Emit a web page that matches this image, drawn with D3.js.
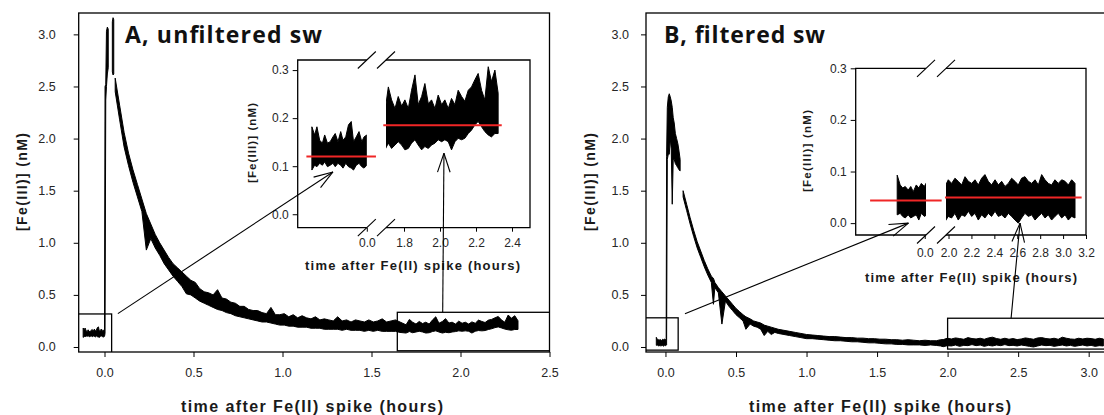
<!DOCTYPE html>
<html>
<head>
<meta charset="utf-8">
<script src="https://cdn.jsdelivr.net/npm/d3@7"></script>
<style>
  body { margin: 0; background: #fff; }
  svg { display: block; }
  text { font-family: "Liberation Sans", Arial, sans-serif; }
</style>
</head>
<body>
<svg id="chart" width="1104" height="415"></svg>
<script>
// ---------------- data ----------------
// time in hours after the Fe(II) spike, [Fe(III)] in nM, each sample is a low/high pair of the noisy trace

// panel A, unfiltered seawater
const preA_t  = [-0.120,-0.114,-0.109,-0.103,-0.097,-0.092,-0.086,-0.080,-0.074,-0.069,-0.063,-0.057,-0.052,-0.046,-0.040,-0.034,-0.029,-0.023,-0.017,-0.011,-0.006,0.000];
const preA_lo = [0.092,0.102,0.099,0.106,0.102,0.109,0.099,0.102,0.106,0.099,0.106,0.102,0.096,0.106,0.099,0.096,0.092,0.102,0.106,0.099,0.096,0.102];
const preA_hi = [0.182,0.165,0.182,0.154,0.148,0.165,0.148,0.151,0.161,0.168,0.151,0.172,0.154,0.161,0.186,0.193,0.151,0.161,0.172,0.151,0.161,0.165];

// the spike itself shows as two bursts of vertical strokes
const spikeA_t  = [0.003,0.007,0.011,0.016,0.021];
const spikeA_lo = [0.13,2.37,2.50,2.62,2.68];
const spikeA_hi = [2.50,2.52,3.03,3.07,3.05];
const spikeA2_t  = [0.044,0.048,0.052];
const spikeA2_lo = [2.64,2.61,2.62];
const spikeA2_hi = [3.12,3.16,3.14];

const decayA_t  = [0.060,0.085,0.110,0.135,0.160,0.185,0.210,0.235,0.260,0.285,0.310,0.335,0.360,0.385,0.410,0.435,0.460,0.485,0.510,0.535,
                   0.560,0.585,0.610,0.635,0.660,0.685,0.710,0.735,0.760,0.785,0.810,0.835,0.860,0.885,0.910,0.935,0.960,0.985,1.010,1.035,
                   1.060,1.085,1.110,1.135,1.160,1.185,1.210,1.235,1.260,1.285,1.310,1.335,1.360,1.385,1.410,1.435,1.460,1.485,1.510,1.535,
                   1.560,1.585,1.610,1.635,1.660];
const decayA_lo = [2.45,2.18,1.92,1.74,1.58,1.44,1.30,0.93,1.04,0.95,0.88,0.80,0.74,0.68,0.63,0.58,0.51,0.50,0.47,0.44,
                   0.42,0.40,0.38,0.36,0.35,0.33,0.32,0.30,0.29,0.28,0.27,0.26,0.25,0.24,0.24,0.23,0.22,0.21,0.21,0.20,
                   0.20,0.19,0.19,0.19,0.18,0.18,0.18,0.17,0.17,0.17,0.17,0.16,0.17,0.16,0.16,0.16,0.15,0.16,0.15,0.16,
                   0.15,0.15,0.15,0.15,0.14];
const decayA_hi = [2.58,2.32,2.06,1.86,1.70,1.56,1.42,1.28,1.18,1.08,1.00,0.93,0.86,0.80,0.76,0.72,0.68,0.64,0.62,0.56,
                   0.53,0.52,0.50,0.55,0.47,0.46,0.43,0.42,0.39,0.39,0.36,0.35,0.35,0.33,0.32,0.38,0.31,0.31,0.32,0.29,
                   0.31,0.28,0.30,0.28,0.27,0.29,0.26,0.27,0.26,0.25,0.29,0.25,0.26,0.24,0.26,0.25,0.24,0.26,0.24,0.25,
                   0.27,0.24,0.25,0.26,0.24];

const tailA_t  = [1.694,1.713,1.731,1.750,1.768,1.787,1.805,1.824,1.842,1.861,1.879,1.898,1.916,1.935,1.953,1.972,1.990,2.009,2.027,2.046,
                  2.064,2.083,2.101,2.120,2.138,2.157,2.175,2.194,2.212,2.231,2.249,2.268,2.286,2.305,2.323];
const tailA_lo = [0.134,0.148,0.137,0.144,0.151,0.144,0.134,0.137,0.148,0.155,0.144,0.134,0.141,0.137,0.144,0.148,0.155,0.151,0.155,0.151,
                  0.134,0.151,0.158,0.155,0.158,0.168,0.175,0.186,0.193,0.182,0.172,0.165,0.161,0.168,0.168];
const tailA_hi = [0.213,0.265,0.238,0.220,0.245,0.225,0.238,0.220,0.258,0.290,0.228,0.245,0.272,0.230,0.238,0.220,0.248,0.228,0.238,0.220,
                  0.241,0.228,0.258,0.245,0.235,0.258,0.265,0.280,0.293,0.258,0.238,0.307,0.276,0.300,0.252];

const meanA = [0.120, 0.185];                    // red lines: before spike, end of run
const meanA_span = [[-0.132, 0.020], [1.685, 2.343]];

// panel B, filtered seawater
const preB_t  = [-0.065,-0.058,-0.052,-0.046,-0.039,-0.033,-0.027,-0.020,-0.014,-0.008,-0.001,0.005];
const preB_lo = [0.016,0.019,0.013,0.010,0.016,0.010,0.013,0.016,0.006,0.019,0.013,0.016];
const preB_hi = [0.093,0.074,0.068,0.071,0.064,0.071,0.061,0.074,0.068,0.077,0.071,0.080];

const spikeB_t  = [0.008,0.013,0.020,0.027,0.034,0.041,0.048,0.055,0.062,0.070,0.079,0.088,0.096,0.104];
const spikeB_lo = [0.02,1.80,1.85,1.85,2.00,1.90,1.37,1.80,1.80,1.76,1.74,1.72,1.70,1.69];
const spikeB_hi = [1.83,2.30,2.40,2.43,2.40,2.36,2.30,2.20,2.15,2.05,2.00,1.95,1.88,1.80];

const decayB_t  = [0.125,0.150,0.175,0.200,0.225,0.250,0.275,0.300,0.325,0.340,0.350,0.375,0.400,0.425,0.450,0.475,0.500,0.525,0.550,0.570,
                   0.600,0.625,0.650,0.675,0.700,0.725,0.750,0.775,0.800,0.840,0.880,0.920,0.960,1.000,1.040,1.080,1.120,1.160,1.200,1.240,
                   1.280,1.320,1.360,1.400,1.440,1.480,1.520,1.560,1.600,1.640,1.680,1.720,1.760,1.800,1.840,1.880,1.920,1.950];
const decayB_lo = [1.44,1.31,1.18,1.06,0.95,0.86,0.77,0.69,0.62,0.41,0.57,0.52,0.22,0.44,0.39,0.35,0.31,0.28,0.25,0.17,
                   0.22,0.20,0.19,0.17,0.11,0.15,0.12,0.14,0.13,0.12,0.11,0.10,0.09,0.08,0.08,0.075,0.07,0.065,0.06,0.06,
                   0.055,0.05,0.05,0.045,0.04,0.04,0.035,0.03,0.03,0.025,0.025,0.02,0.02,0.02,0.015,0.02,0.015,0.01];
const decayB_hi = [1.50,1.37,1.24,1.12,1.01,0.92,0.83,0.75,0.68,0.66,0.62,0.57,0.53,0.49,0.45,0.41,0.37,0.34,0.31,0.29,
                   0.27,0.25,0.24,0.23,0.21,0.20,0.19,0.18,0.17,0.16,0.15,0.14,0.13,0.12,0.115,0.11,0.105,0.10,0.10,0.095,
                   0.09,0.09,0.085,0.085,0.08,0.08,0.075,0.075,0.07,0.07,0.065,0.07,0.065,0.06,0.065,0.06,0.06,0.07];

const tailB_t  = [1.969,1.998,2.027,2.056,2.085,2.115,2.144,2.173,2.202,2.231,2.260,2.289,2.318,2.347,2.376,2.406,2.435,2.464,2.493,2.522,
                  2.551,2.580,2.609,2.638,2.667,2.697,2.726,2.755,2.784,2.813,2.842,2.871,2.900,2.929,2.958,2.988,3.017,3.046,3.075,3.104];
const tailB_lo = [0.003,0.013,0.010,0.019,0.006,0.016,0.013,0.023,0.013,0.019,0.006,0.016,0.010,0.019,0.013,0.023,0.013,0.016,0.010,0.019,
                  0.013,0.006,0.000,0.010,0.019,0.013,0.016,0.006,0.013,0.019,0.010,0.016,0.006,0.013,0.019,0.010,0.016,0.006,0.013,0.010];
const tailB_hi = [0.071,0.084,0.077,0.087,0.081,0.074,0.090,0.081,0.077,0.084,0.074,0.087,0.094,0.081,0.074,0.084,0.074,0.081,0.071,0.077,
                  0.087,0.081,0.074,0.087,0.090,0.081,0.077,0.084,0.074,0.094,0.084,0.077,0.074,0.084,0.077,0.084,0.081,0.074,0.084,0.077];

const meanB = [0.044, 0.0496];
const meanB_span = [[-0.129, 0.040], [1.969, 3.162]];

// axis ticks
const mainYTicks = [0, 0.5, 1.0, 1.5, 2.0, 2.5, 3.0];
const mainXTicksA = [0, 0.5, 1.0, 1.5, 2.0, 2.5];
const mainXTicksB = [0, 0.5, 1.0, 1.5, 2.0, 2.5, 3.0];
const insetYTicks = [0, 0.1, 0.2, 0.3];
const insetXTicksA = [1.8, 2.0, 2.2, 2.4];
const insetXTicksB = [2.0, 2.2, 2.4, 2.6, 2.8, 3.0, 3.2];

// zoom windows drawn on the main plots [t0, t1, v0, v1]
const boxesA = [[-0.2, 0.040, -0.1, 0.317], [1.645, 2.6, -0.036, 0.333]];
const boxesB = [[-0.2, 0.090, -0.03, 0.280], [2.0, 3.5, -0.02, 0.276]];

// ---------------- helpers ----------------
function series(parts) {
  // parts: [t, lo, hi] triples; a null row before a part flagged gap breaks the trace
  const out = [];
  parts.forEach((p, k) => {
    if (k > 0 && p.gap) out.push({ t: p[0][0], lo: null, hi: null });
    p[0].forEach((t, i) => out.push({ t: t, lo: p[1][i], hi: p[2][i] }));
  });
  return out;
}
function part(t, lo, hi, gap) { const p = [t, lo, hi]; p.gap = !!gap; return p; }

const svg = d3.select("#chart");
const INK = "#262626";

function band(g, data, x, y) {
  const area = d3.area()
    .defined(d => d.lo != null)
    .x(d => x(d.t)).y0(d => y(d.lo)).y1(d => y(d.hi));
  g.append("path").datum(data)
    .attr("d", area)
    .attr("fill", "#000").attr("stroke", "#000").attr("stroke-width", 1)
    .attr("stroke-linejoin", "round");
}

function arrow(g, x1, y1, x2, y2) {
  g.append("line").attr("x1", x1).attr("y1", y1).attr("x2", x2).attr("y2", y2);
  const a = Math.atan2(y2 - y1, x2 - x1), L = 20, h = 0.32;
  [a + Math.PI - h, a + Math.PI + h].forEach(b => {
    g.append("line").attr("x1", x2).attr("y1", y2)
      .attr("x2", x2 + L * Math.cos(b)).attr("y2", y2 + L * Math.sin(b));
  });
}

function slash(g, cx, cy) {
  g.append("line").attr("x1", cx - 9).attr("y1", cy + 8.5).attr("x2", cx + 9).attr("y2", cy - 8.5);
}

function styleAxis(sel, size) {
  sel.select(".domain").remove();
  sel.selectAll(".tick line").attr("stroke", "#000").attr("stroke-width", 1);
  sel.selectAll(".tick text").attr("fill", INK).style("font-size", size + "px")
    .style("font-family", '"Liberation Sans", Arial, sans-serif');
}

function boldLabel(g, txt, size, width) {
  return g.append("text").text(txt)
    .attr("text-anchor", "middle")
    .attr("textLength", width).attr("lengthAdjust", "spacing")
    .style("font-weight", 700).style("font-size", size + "px").attr("fill", "#1a1a1a");
}

function drawPanel(cfg) {
  const { data, x, y } = cfg;
  const g = svg.append("g");
  const fmt = d3.format(".1f");

  // main frame
  const [fx0, fx1] = x.range(), [fy1, fy0] = y.range();
  g.append("rect").attr("x", fx0).attr("y", fy0).attr("width", fx1 - fx0).attr("height", fy1 - fy0)
    .attr("fill", "none").attr("stroke", "#000").attr("stroke-width", 1.3);

  const yAx = g.append("g").attr("transform", `translate(${fx0},0)`)
    .call(d3.axisLeft(y).tickValues(mainYTicks).tickFormat(fmt).tickSize(5).tickPadding(cfg.yPad));
  styleAxis(yAx, 12.5);
  const xAx = g.append("g").attr("transform", `translate(0,${fy1})`)
    .call(d3.axisBottom(x).tickValues(cfg.xTicks).tickFormat(fmt).tickSize(5).tickPadding(11));
  styleAxis(xAx, 12.5);

  // trace
  const clipId = "clip" + cfg.id;
  svg.append("clipPath").attr("id", clipId).append("rect")
    .attr("x", fx0).attr("y", fy0).attr("width", fx1 - fx0).attr("height", fy1 - fy0);
  band(g.append("g").attr("clip-path", `url(#${clipId})`), data, x, y);

  // zoom boxes
  const bx = g.append("g").attr("clip-path", `url(#${clipId})`);
  cfg.boxes.forEach(b => {
    bx.append("rect").attr("x", x(b[0])).attr("y", y(b[3]))
      .attr("width", x(b[1]) - x(b[0])).attr("height", y(b[2]) - y(b[3]))
      .attr("fill", "none").attr("stroke", "#000").attr("stroke-width", 1.3);
  });

  // titles
  g.append("text").attr("x", cfg.titleX).attr("y", 43).text(cfg.title)
    .attr("textLength", cfg.titleW).attr("lengthAdjust", "spacing")
    .style("font-family", "'Open Sans', Lato, sans-serif").style("font-weight", 700)
    .style("font-size", "23px").attr("fill", "#111");
  boldLabel(g, "[Fe(III)] (nM)", 14, 98)
    .attr("transform", `translate(${cfg.yTitleX},182) rotate(-90)`);
  boldLabel(g, "time after Fe(II) spike (hours)", 16, 262)
    .attr("x", cfg.xTitleX).attr("y", 412);

  // ---- inset ----
  const ins = cfg.inset;
  const iy = ins.y, xl = ins.xl, xr = ins.xr;
  const ix0 = xl.range()[0], ixL = ins.leftEnd, ixR = ins.rightStart, ix1 = xr.range()[1];
  const [iy1, iy0] = [ins.bottom, ins.top];
  const fr = g.append("g").attr("stroke", "#000").attr("stroke-width", 1.3).attr("fill", "none");
  fr.append("path").attr("d",
    `M${ixL},${iy0}H${ix0}V${iy1}H${ixL}M${ixR},${iy0}H${ix1}V${iy1}H${ixR}`);
  const sl = g.append("g").attr("stroke", "#000").attr("stroke-width", 1.1);
  [ixL, ixR].forEach(cx => { slash(sl, cx, iy0); slash(sl, cx, iy1); });

  const iyAx = g.append("g").attr("transform", `translate(${ix0},0)`)
    .call(d3.axisLeft(iy).tickValues(insetYTicks).tickFormat(fmt).tickSize(5).tickPadding(ins.yPad));
  styleAxis(iyAx, 12);
  const ixAxL = g.append("g").attr("transform", `translate(0,${iy1})`)
    .call(d3.axisBottom(xl).tickValues([0]).tickFormat(fmt).tickSize(4).tickPadding(ins.xPad));
  styleAxis(ixAxL, 12);
  const ixAxR = g.append("g").attr("transform", `translate(0,${iy1})`)
    .call(d3.axisBottom(xr).tickValues(ins.xTicks).tickFormat(fmt).tickSize(4).tickPadding(ins.xPad));
  styleAxis(ixAxR, 12);

  const cl = "cl" + cfg.id, cr = "cr" + cfg.id;
  svg.append("clipPath").attr("id", cl).append("rect").attr("x", ix0).attr("y", iy0).attr("width", ixL - ix0).attr("height", iy1 - iy0);
  svg.append("clipPath").attr("id", cr).append("rect").attr("x", ixR).attr("y", iy0).attr("width", ix1 - ixR).attr("height", iy1 - iy0);
  band(g.append("g").attr("clip-path", `url(#${cl})`), cfg.pre, xl, iy);
  band(g.append("g").attr("clip-path", `url(#${cr})`), cfg.tail, xr, iy);

  const red = g.append("g").attr("stroke", "#f02626").attr("stroke-width", 2);
  [xl, xr].forEach((sx, k) => {
    red.append("line").attr("x1", sx(cfg.spans[k][0])).attr("x2", sx(cfg.spans[k][1]))
      .attr("y1", iy(cfg.means[k])).attr("y2", iy(cfg.means[k]));
  });

  boldLabel(g, "[Fe(III)] (nM)", 11.5, ins.yTitleW)
    .attr("transform", `translate(${ins.yTitle[0]},${ins.yTitle[1]}) rotate(-90)`);
  boldLabel(g, "time after Fe(II) spike (hours)", 13, ins.xTitleW)
    .attr("x", ins.xTitle[0]).attr("y", ins.xTitle[1]);

  // arrows from the zoom boxes into the inset
  const ar = g.append("g").attr("stroke", "#000").attr("stroke-width", 1.1);
  cfg.arrows.forEach(a => arrow(ar, a[0], a[1], a[2], a[3]));
}

// ---------------- panel A ----------------
const xA = d3.scaleLinear().domain([-0.145, 2.5]).range([78.7, 549.5]);
const yA = d3.scaleLinear().domain([-0.048, 3.205]).range([352, 13]);
const iyA = d3.scaleLinear().domain([-0.028, 0.321]).range([227.7, 60]);
const xlA = d3.scaleLinear().domain([-0.151, 0.0]).range([297.7, 366.8]);
const xrA = d3.scaleLinear().domain([1.70, 2.5]).range([386, 530]);

const dataA = series([
  part(preA_t, preA_lo, preA_hi),
  part(spikeA_t, spikeA_lo, spikeA_hi),
  part(spikeA2_t, spikeA2_lo, spikeA2_hi, true),
  part(decayA_t, decayA_lo, decayA_hi, true),
  part(tailA_t, tailA_lo, tailA_hi)
]);

drawPanel({
  id: "A", data: dataA, x: xA, y: yA, xTicks: mainXTicksA, yPad: 18,
  boxes: boxesA, title: "A, unfiltered sw", titleX: 125, titleW: 197, yTitleX: 27, xTitleX: 312,
  pre: series([part(preA_t, preA_lo, preA_hi)]),
  tail: series([part(decayA_t, decayA_lo, decayA_hi), part(tailA_t, tailA_lo, tailA_hi)]),
  means: meanA, spans: meanA_span,
  inset: { y: iyA, xl: xlA, xr: xrA, leftEnd: 366.8, rightStart: 386, top: 60, bottom: 227.7,
           yPad: 4, xPad: 7, xTicks: insetXTicksA, yTitle: [256, 143], yTitleW: 80,
           xTitle: [412.5, 270], xTitleW: 215 },
  arrows: [[xA(0.075), yA(0.32), xlA(-0.074), iyA(0.088)],
           [xA(1.9), yA(0.333), xrA(2.022), iyA(0.127)]]
});

// ---------------- panel B ----------------
const xB = d3.scaleLinear().domain([-0.138, 3.3]).range([646, 1131]);
const yB = d3.scaleLinear().domain([-0.048, 3.205]).range([352, 13]);
const iyB = d3.scaleLinear().domain([-0.023, 0.3]).range([235, 68.3]);
const xlB = d3.scaleLinear().domain([-0.163, 0.003]).range([855.7, 926]);
const xrB = d3.scaleLinear().domain([1.978, 3.2]).range([946, 1086]);

const dataB = series([
  part(preB_t, preB_lo, preB_hi),
  part(spikeB_t, spikeB_lo, spikeB_hi),
  part(decayB_t, decayB_lo, decayB_hi, true),
  part(tailB_t, tailB_lo, tailB_hi)
]);

drawPanel({
  id: "B", data: dataB, x: xB, y: yB, xTicks: mainXTicksB, yPad: 12,
  boxes: boxesB, title: "B, filtered sw", titleX: 664, titleW: 161, yTitleX: 595, xTitleX: 880,
  pre: series([part(preB_t, preB_lo, preB_hi)]),
  tail: series([part(tailB_t, tailB_lo, tailB_hi)]),
  means: meanB, spans: meanB_span,
  inset: { y: iyB, xl: xlB, xr: xrB, leftEnd: 926, rightStart: 946, top: 68.3, bottom: 235,
           yPad: 4, xPad: 9, xTicks: insetXTicksB, yTitle: [811, 151], yTitleW: 82,
           xTitle: [971, 282], xTitleW: 212 },
  arrows: [[xB(0.138), yB(0.32), xlB(-0.0385), iyB(0.0)],
           [xB(2.45), yB(0.276), xrB(2.624), iyB(0.0)]]
});
</script>
</body>
</html>
